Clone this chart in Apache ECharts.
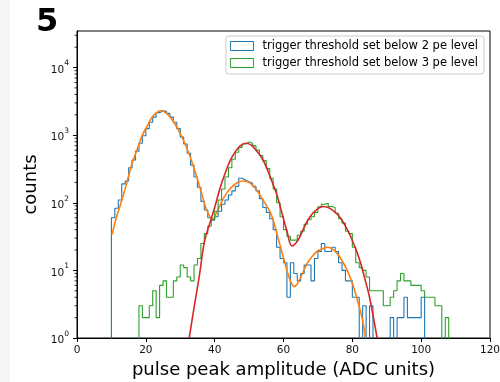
<!DOCTYPE html>
<html>
<head>
<meta charset="utf-8">
<script src="https://cdn.jsdelivr.net/npm/echarts@6/dist/echarts.min.js"></script>
<style>
  html, body { margin: 0; padding: 0; background: #fff; }
  #chart { width: 500px; height: 382px; }
</style>
</head>
<body>
<div id="chart"></div>
<script>
// histogram bins are 1 ADC unit wide, counts start at the given first edge
const blueStart = 10;
const blueCounts = [
  60, 83, 110, 190, 210, 330, 430, 580, 760, 980,
  1250, 1550, 1850, 2150, 2300, 2250, 2100, 1850, 1550, 1250,
  940, 740, 540, 360, 240, 170, 105, 78, 60, 55,
  62, 75, 95, 110, 130, 150, 175, 230, 215, 205,
  195, 175, 150, 115, 85, 72, 58, 40, 22, 15,
  13, 4, 13, 9, 7, 9, 12, 12, 7, 15,
  19, 25, 19, 19, 22, 19, 13, 10, 7, 7,
  4, 4, 0, 3, 0, 3, 0, 0, 0, 0,
  0, 2, 0, 2, 2, 4, 2, 2, 2, 2,
  4
];
const greenStart = 18;
const greenCounts = [
  3, 2, 2, 3, 5, 2, 6, 7, 4, 4,
  7, 8, 12, 11, 8, 7, 12, 15, 25, 35,
  45, 57, 75, 110, 160, 240, 330, 440, 560, 660,
  740, 790, 760, 700, 600, 500, 420, 320, 230, 160,
  100, 62, 40, 32, 28, 28, 33, 38, 48, 56,
  62, 72, 87, 95, 98, 88, 85, 70, 58, 50,
  38, 35, 22, 13, 11, 10, 8, 5, 5, 5,
  5, 3, 3, 4, 5, 7, 9, 7, 7, 6,
  6, 6, 5, 4, 4, 4, 3, 3, 0, 2
];

// fitted curves
const fitBlue = [
  [10.2, 34], [11.5, 62], [13, 108], [14.5, 200], [16, 380], [17.5, 620], [19, 1000],
  [20.5, 1400], [22, 1900], [23.5, 2220], [24.3, 2290], [25.5, 2200], [27, 1860],
  [28.5, 1450], [30, 1050], [31.5, 720], [33, 460], [34.5, 270], [36, 150],
  [37.5, 82], [38.5, 64], [39.3, 57], [40.5, 70], [42, 102], [43.5, 140], [45, 172],
  [46.5, 198], [48, 210], [49, 208], [50.5, 192], [52, 160], [53.5, 122], [55, 92],
  [56.5, 66], [58, 36], [59.5, 19], [61, 10], [62, 7], [63, 5.8], [64, 6.3],
  [65.5, 9], [67, 13], [68.5, 16.5], [70, 19.5], [71.5, 21], [72.7, 22], [74, 21],
  [75.5, 18], [77, 14], [78.5, 10], [79.5, 7.5], [80.5, 5.4], [82, 2.9], [83, 1.8], [83.8, 1]
];
const fitGreen = [
  [32.6, 1], [34, 2.8], [35.5, 8], [37, 26], [38.5, 48], [40, 85], [41.5, 160],
  [43, 270], [44.5, 420], [46, 570], [47.5, 700], [49, 760], [50.5, 720], [52, 600],
  [53.5, 480], [55, 340], [56.5, 215], [58, 135], [59.5, 72], [61, 38], [62.5, 23],
  [64, 27], [65.5, 38], [67, 55], [68.5, 70], [70, 82], [71.5, 88], [73, 85],
  [74.5, 76], [76, 65], [77.5, 50], [79, 36], [80.5, 24], [82, 15], [83.5, 8],
  [85, 4], [86.3, 1.8], [87.2, 1]
];

const xTicks = [0, 20, 40, 60, 80, 100, 120];
const yMinorTicks = [];
[1, 10, 100, 1000, 10000].forEach(d => {
  for (let k = 2; k <= 9; k++) if (d * k < 34700) yMinorTicks.push(d * k);
});

const blueLabel = 'trigger threshold set below 2 pe level';
const greenLabel = 'trigger threshold set below 3 pe level';

const C = { blue: '#1f77b4', orange: '#ff7f0e', green: '#2ca02c', red: '#d62728' };
const FLOOR = 0.05; // empty bins go below the axis and get clipped

// turn bin counts into a step outline (like matplotlib histtype='step')
function stepPoints(start, counts) {
  const v = c => (c > 0 ? c : FLOOR);
  const pts = [[start, FLOOR]];
  counts.forEach((c, i) => pts.push([start + i, v(c)]));
  const end = start + counts.length;
  pts.push([end, v(counts[counts.length - 1])]);
  pts.push([end, FLOOR]);
  return pts;
}

const font = 'DejaVu Sans';
const chart = echarts.init(document.getElementById('chart'), null, { renderer: 'canvas' });

const option = {
  animation: false,
  backgroundColor: '#fff',
  textStyle: { fontFamily: font },
  graphic: [
    { type: 'rect', left: 0, top: 0, shape: { width: 10, height: 382 }, style: { fill: '#f6f6f8' }, silent: true }
  ],
  title: {
    text: '5',
    left: 31,
    top: 2,
    textStyle: { fontFamily: font, fontSize: 32, fontWeight: 'bold', color: '#000' }
  },
  grid: {
    left: 77, right: 10, top: 31, bottom: 44,
    outerBoundsMode: 'none',
    containLabel: false,
    show: true, borderColor: '#000', borderWidth: 1, backgroundColor: 'transparent'
  },
  legend: {
    orient: 'vertical',
    right: 16,
    top: 36,
    padding: [3, 6, 4, 4],
    itemGap: 3,
    itemWidth: 23,
    itemHeight: 9,
    backgroundColor: 'rgba(255,255,255,0.8)',
    borderColor: '#cccccc',
    borderWidth: 1,
    borderRadius: 3,
    textStyle: { fontFamily: font, fontSize: 11.5, color: '#000', lineHeight: 14, padding: [0, 0, 0, 4] },
    data: [
      { name: blueLabel, icon: 'rect', itemStyle: { color: 'rgba(0,0,0,0)', borderColor: C.blue, borderWidth: 1 } },
      { name: greenLabel, icon: 'rect', itemStyle: { color: 'rgba(0,0,0,0)', borderColor: C.green, borderWidth: 1 } }
    ]
  },
  xAxis: {
    type: 'value',
    min: 0,
    max: 120,
    interval: 20,
    name: 'pulse peak amplitude (ADC units)',
    nameLocation: 'middle',
    nameGap: 22,
    nameTextStyle: { fontFamily: font, fontSize: 18, color: '#000' },
    axisLine: { onZero: false, lineStyle: { color: '#000', width: 1 } },
    axisTick: { length: 4, lineStyle: { color: '#000' } },
    axisLabel: {
      fontFamily: font, fontSize: 10.5, color: '#111', margin: 7,
      formatter: v => (xTicks.includes(v) ? String(v) : '')
    },
    splitLine: { show: false }
  },
  yAxis: {
    type: 'log',
    logBase: 10,
    min: 1,
    max: 34700,
    name: 'counts',
    nameLocation: 'middle',
    nameGap: 28,
    nameRotate: 90,
    nameTextStyle: { fontFamily: font, fontSize: 18, color: '#000' },
    axisLine: { show: true, lineStyle: { color: '#000', width: 1 } },
    axisTick: { length: 4, lineStyle: { color: '#000' } },
    axisLabel: {
      fontFamily: font, fontSize: 10.5, color: '#111', margin: 8,
      showMaxLabel: false,
      formatter: v => {
        const e = Math.log10(v);
        const r = Math.round(e);
        if (Math.abs(e - r) > 1e-6) return '';
        return '{b|10}{e|' + r + '}';
      },
      rich: {
        b: { fontFamily: font, fontSize: 10.5, color: '#111', lineHeight: 16, verticalAlign: 'bottom' },
        e: { fontFamily: font, fontSize: 7.5, color: '#111', lineHeight: 7, verticalAlign: 'top' }
      }
    },
    splitLine: { show: false }
  },
  series: [
    {
      name: blueLabel,
      type: 'line',
      step: 'end',
      data: stepPoints(blueStart, blueCounts),
      showSymbol: false,
      clip: true,
      lineStyle: { color: C.blue, width: 1.1 },
      itemStyle: { color: C.blue },
      z: 2
    },
    {
      name: 'fit blue',
      type: 'line',
      smooth: 0.4,
      data: fitBlue,
      showSymbol: false,
      clip: true,
      lineStyle: { color: C.orange, width: 1.6 },
      itemStyle: { color: C.orange },
      z: 3
    },
    {
      name: greenLabel,
      type: 'line',
      step: 'end',
      data: stepPoints(greenStart, greenCounts),
      showSymbol: false,
      clip: true,
      lineStyle: { color: C.green, width: 1.1 },
      itemStyle: { color: C.green },
      z: 4
    },
    {
      name: 'fit green',
      type: 'line',
      smooth: 0.4,
      data: fitGreen,
      showSymbol: false,
      clip: true,
      lineStyle: { color: C.red, width: 1.6 },
      itemStyle: { color: C.red },
      z: 5
    },
    {
      // log minor ticks at 2..9 x 10^n, outside the left spine
      name: 'minor ticks',
      type: 'custom',
      silent: true,
      clip: false,
      data: yMinorTicks.map(v => [0, v]),
      renderItem: (params, api) => {
        const p = api.coord([api.value(0), api.value(1)]);
        return {
          type: 'line',
          shape: { x1: p[0] - 2.5, y1: p[1], x2: p[0], y2: p[1] },
          style: { stroke: '#000', lineWidth: 0.8 }
        };
      },
      z: 6
    }
  ]
};

chart.setOption(option);
</script>
</body>
</html>
